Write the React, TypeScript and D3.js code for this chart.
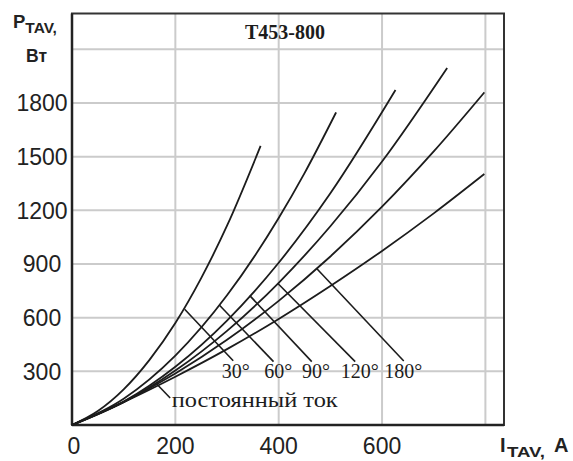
import React from "react";
import * as d3 from "d3";

// ---- data ----
const title = "T453-800";
const xTicks = [0, 200, 400, 600];
const xGrid = [200, 400, 600, 800];
const yTicks = [300, 600, 900, 1200, 1500, 1800];
const yGrid = [300, 600, 900, 1200, 1500, 1800, 2100];

const i30 = [0, 50, 100, 150, 200, 250, 300, 365];
const p30 = [0, 78, 199, 364, 570, 821, 1114, 1560];
const i60 = [0, 100, 200, 300, 400, 450, 511];
const p60 = [0, 147, 388, 725, 1157, 1408, 1747];
const i90 = [0, 100, 200, 300, 400, 500, 626];
const p90 = [0, 131, 326, 584, 907, 1295, 1872];
const i120 = [0, 100, 200, 300, 400, 500, 600, 726];
const p120 = [0, 128, 304, 526, 795, 1111, 1473, 1996];
const i180 = [0, 100, 200, 300, 400, 500, 600, 700, 798];
const p180 = [0, 129, 288, 476, 694, 942, 1220, 1529, 1859];
const iDC = [0, 100, 200, 300, 400, 500, 600, 700, 798];
const pDC = [0, 128, 270, 424, 593, 777, 973, 1183, 1403];

const seriesLabels = ["30°", "60°", "90°", "120°", "180°"];
// leader lines: [I start, P start, I end, P end]
const leaders = [
  [218, 647, 312, 359],
  [285, 671, 390, 354],
  [344, 723, 464, 354],
  [398, 792, 548, 354],
  [473, 876, 642, 358],
];
const dcLeader = [164, 229, 190, 151];
const dcLabel = "постоянный ток";
// label anchor (I, P) for each angle label (text centre, baseline)
const labelPos = [
  [317, 263],
  [399, 263],
  [472, 263],
  [557, 263],
  [641, 263],
];
const dcLabelPos = [193, 102];

const W = 573;
const H = 461;

export default function App() {
  const x = d3.scaleLinear().domain([0, 836]).range([72, 504]);
  const y = d3.scaleLinear().domain([0, 2300]).range([425, 13.5]);

  const series = [
    [i30, p30],
    [i60, p60],
    [i90, p90],
    [i120, p120],
    [i180, p180],
    [iDC, pDC],
  ];
  const line = d3
    .line<[number, number]>()
    .x((d) => x(d[0]))
    .y((d) => y(d[1]))
    .curve(d3.curveMonotoneX);

  const gridColor = "#cbcbcb";
  const ink = "#1c1c1c";
  const sans = "'Liberation Sans', Arial, sans-serif";
  const serif = "'Liberation Serif', 'DejaVu Serif', serif";

  return (
    <svg
      width={W}
      height={H}
      style={{ position: "absolute", left: 0, top: 0, background: "#fff" }}
    >
      {/* grid */}
      {xGrid.map((v) => (
        <line
          key={"gx" + v}
          x1={x(v)}
          x2={x(v)}
          y1={y(2300)}
          y2={y(0)}
          stroke={gridColor}
          strokeWidth={2}
        />
      ))}
      {yGrid.map((v) => (
        <line
          key={"gy" + v}
          x1={x(0)}
          x2={x(836)}
          y1={y(v)}
          y2={y(v)}
          stroke={gridColor}
          strokeWidth={2}
        />
      ))}
      {/* frame */}
      <rect
        x={x(0)}
        y={y(2300)}
        width={x(836) - x(0)}
        height={y(0) - y(2300)}
        fill="none"
        stroke="#333"
        strokeWidth={2}
      />
      <line x1={x(0)} x2={x(0)} y1={y(2300)} y2={y(0)} stroke="#222" strokeWidth={2.5} />
      <line x1={x(0)} x2={x(836)} y1={y(0)} y2={y(0)} stroke="#222" strokeWidth={2.5} />

      {/* curves */}
      {series.map(([xs, ps], k) => (
        <path
          key={"s" + k}
          d={line(xs.map((v, j) => [v, ps[j]] as [number, number])) || ""}
          fill="none"
          stroke={ink}
          strokeWidth={1.8}
        />
      ))}

      {/* leaders */}
      {leaders.map((l, k) => (
        <line
          key={"l" + k}
          x1={x(l[0])}
          y1={y(l[1])}
          x2={x(l[2])}
          y2={y(l[3])}
          stroke={ink}
          strokeWidth={1.6}
        />
      ))}
      <line
        x1={x(dcLeader[0])}
        y1={y(dcLeader[1])}
        x2={x(dcLeader[2])}
        y2={y(dcLeader[3])}
        stroke={ink}
        strokeWidth={1.6}
      />

      {/* angle labels */}
      {seriesLabels.map((s, k) => (
        <text
          key={"t" + k}
          x={x(labelPos[k][0])}
          y={y(labelPos[k][1])}
          textAnchor="middle"
          fontFamily={serif}
          fontSize={20}
          fill={ink}
        >
          {s}
        </text>
      ))}
      <text
        x={x(dcLabelPos[0])}
        y={y(dcLabelPos[1])}
        fontFamily={serif}
        fontSize={21}
        fill={ink}
        textLength={166}
        lengthAdjust="spacingAndGlyphs"
      >
        {dcLabel}
      </text>

      {/* title */}
      <text
        x={245}
        y={39}
        fontFamily={serif}
        fontWeight="bold"
        fontSize={20}
        fill={ink}
      >
        {title}
      </text>

      {/* y tick labels */}
      {yTicks.map((v) => (
        <text
          key={"yt" + v}
          x={42}
          y={y(v) + 8.5}
          textAnchor="middle"
          fontFamily={sans}
          fontSize={23}
          fill="#222"
        >
          {v}
        </text>
      ))}
      {/* x tick labels */}
      {xTicks.map((v) => (
        <text
          key={"xt" + v}
          x={x(v) + (v === 0 ? 2 : 0)}
          y={454}
          textAnchor="middle"
          fontFamily={sans}
          fontSize={23}
          fill="#222"
        >
          {v}
        </text>
      ))}

      {/* axis titles */}
      <text x={13} y={28} fontFamily={sans} fontWeight="bold" fontSize={18.5} fill="#222">
        P
        <tspan fontSize={15.5} dy={5}>
          TAV,
        </tspan>
      </text>
      <text x={26} y={62} fontFamily={sans} fontWeight="bold" fontSize={17.5} fill="#222">
        Вт
      </text>
      <text x={500} y={452} fontFamily={sans} fontWeight="bold" fontSize={20} fill="#222">
        I
      </text>
      <text
        x={507}
        y={457}
        fontFamily={sans}
        fontWeight="bold"
        fontSize={15}
        fill="#222"
        textLength={38}
        lengthAdjust="spacingAndGlyphs"
      >
        TAV,
      </text>
      <text x={554} y={452} fontFamily={sans} fontWeight="bold" fontSize={20} fill="#222">
        A
      </text>
    </svg>
  );
}
